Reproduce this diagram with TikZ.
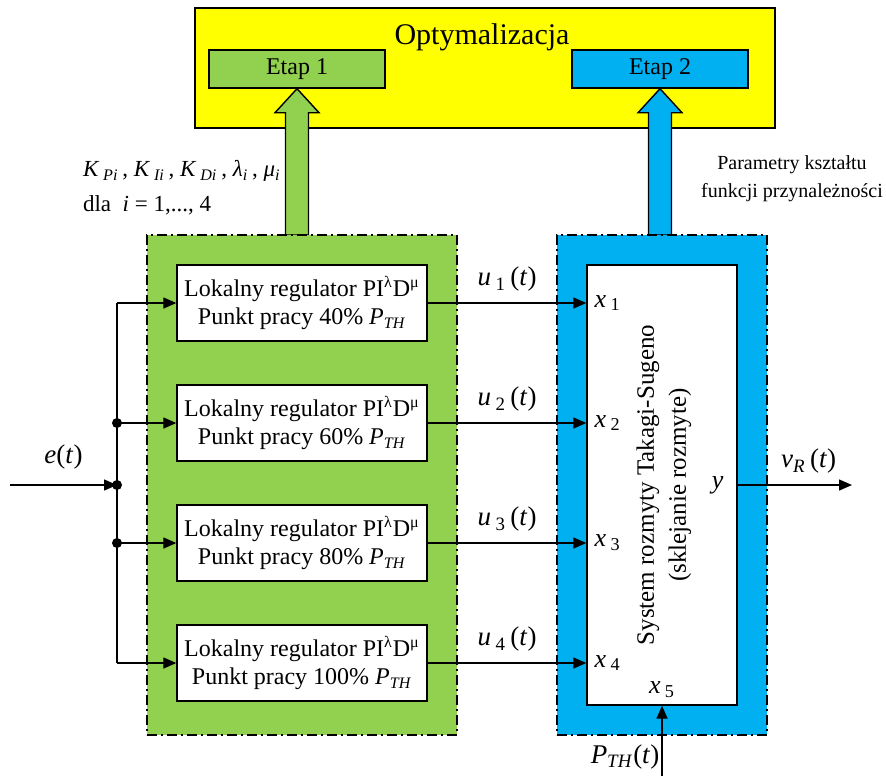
\documentclass[tikz,border=0pt]{standalone}
\usepackage{fontspec}
\setmainfont{Liberation Serif}
\usetikzlibrary{arrows.meta,positioning,calc}

\definecolor{optyellow}{HTML}{FFFF00}
\definecolor{etapgreen}{HTML}{92D050}
\definecolor{etapblue}{HTML}{00B0F0}
\newcommand{\lowix}[1]{\textsubscript{#1}}

\begin{document}
\begin{tikzpicture}[
  x=0.5pt, y=-0.5pt,
  optbox/.style={draw, fill=optyellow, line width=0.7pt, minimum width=290pt, minimum height=60pt},
  etap/.style={draw, line width=0.7pt, minimum width=88pt, minimum height=19pt, font=\fontsize{12}{14}\selectfont},
  group/.style={draw, line width=0.8pt, dash pattern=on 5pt off 2pt on 1pt off 2pt, minimum width=155pt, minimum height=250pt},
  regblock/.style={draw, fill=white, line width=0.7pt, minimum width=125pt, minimum height=38pt, align=center, font=\fontsize{12}{14}\selectfont},
  fuzzyblock/.style={draw, fill=white, line width=0.7pt, minimum width=75pt, minimum height=220pt},
  sig/.style={-{Triangle[length=6.5pt,width=5.5pt]}, line width=0.7pt},
  bigarrow/.style={draw, line width=0.7pt, line join=miter},
  lbl/.style={font=\fontsize{13.5}{16}\selectfont},
  port/.style={font=\fontsize{13}{16}\selectfont, inner sep=1pt},
  junction/.style={circle, fill, inner sep=0pt, minimum size=5pt}
]
\useasboundingbox (0,0) rectangle (886,776);

% optimisation stage
\node[optbox] (opt) at (485,68) {};
\node[font=\fontsize{15}{18}\selectfont] (optlbl) at (482,37) {Optymalizacja};
\node[etap, fill=etapgreen] (etap1) at (297,69) {Etap 1};
\node[etap, fill=etapblue] (etap2) at (660,69) {Etap 2};

% block arrows
\coordinate (a1) at (etap1.south |- 0,235);
\coordinate (a2) at (etap2.south |- 0,235);
\draw[bigarrow, fill=etapgreen] (etap1.south) -- ++(22,24) -- ++(-10.5,0) -- ($(a1)+(11.5,0)$)
  -- ($(a1)+(-11.5,0)$) -- ($(etap1.south)+(-11.5,24)$) -- ++(-10.5,0) -- cycle;
\draw[bigarrow, fill=etapblue] (etap2.south) -- ++(22,24) -- ++(-10.5,0) -- ($(a2)+(11.5,0)$)
  -- ($(a2)+(-11.5,0)$) -- ($(etap2.south)+(-11.5,24)$) -- ++(-10.5,0) -- cycle;

\node[align=left, anchor=west, font=\fontsize{11.5}{17.5}\selectfont] (gains) at (76,188)
  {\textit{K}\,\lowix{\textit{Pi}}\,, \textit{K}\,\lowix{\textit{Ii}}\,, \textit{K}\,\lowix{\textit{Di}}\,, \textit{λ}\lowix{\textit{i}}\,, \textit{μ}\lowix{\textit{i}}\\
   dla~ \textit{i} = 1,..., 4};
\node[align=center, font=\fontsize{10}{14}\selectfont] (shape) at (792,179) {Parametry kształtu\\funkcji przynależności};

% groups
\node[group, fill=etapgreen] (grp1) at (302,485) {};
\node[group, fill=etapblue, minimum width=105pt] (grp2) at (662,485) {};

% local controllers
\node[regblock] (reg1) at (302,303) {Lokalny regulator PI\textsuperscript{λ}D\textsuperscript{μ}\\Punkt pracy 40\% \textit{P}\lowix{\textit{TH}}};
\node[regblock] (reg2) at (302,423) {Lokalny regulator PI\textsuperscript{λ}D\textsuperscript{μ}\\Punkt pracy 60\% \textit{P}\lowix{\textit{TH}}};
\node[regblock] (reg3) at (302,543) {Lokalny regulator PI\textsuperscript{λ}D\textsuperscript{μ}\\Punkt pracy 80\% \textit{P}\lowix{\textit{TH}}};
\node[regblock] (reg4) at (302,663) {Lokalny regulator PI\textsuperscript{λ}D\textsuperscript{μ}\\Punkt pracy 100\% \textit{P}\lowix{\textit{TH}}};

% fuzzy system
\node[fuzzyblock] (ts) at (662,485) {};
\node[rotate=90, align=center, font=\fontsize{12.5}{16}\selectfont] (tslbl) at (664,485) {System rozmyty Takagi-Sugeno\\(sklejanie rozmyte)};

% input distribution
\coordinate (ein) at (10,485);
\coordinate (bus) at (117,485);
\draw[sig] (ein) -- (bus) node[midway, above=4pt, lbl] (elbl) {\textit{e}(\textit{t})};
\draw[line width=0.7pt] (bus |- reg1.west) -- (bus |- reg4.west);
\draw[sig] (bus |- reg1.west) -- (reg1.west);
\draw[sig] (bus |- reg2.west) -- (reg2.west);
\draw[sig] (bus |- reg3.west) -- (reg3.west);
\draw[sig] (bus |- reg4.west) -- (reg4.west);
\node[junction] (dot2) at (bus |- reg2.west) {};
\node[junction] (dot0) at (bus) {};
\node[junction] (dot3) at (bus |- reg3.west) {};

% controller outputs
\draw[sig] (reg1.east) -- (ts.west |- reg1.east) node[midway, above=2pt, lbl] (u1lbl) {\textit{u}\,\lowix{1}\,(\textit{t})};
\draw[sig] (reg2.east) -- (ts.west |- reg2.east) node[midway, above=2pt, lbl] (u2lbl) {\textit{u}\,\lowix{2}\,(\textit{t})};
\draw[sig] (reg3.east) -- (ts.west |- reg3.east) node[midway, above=2pt, lbl] (u3lbl) {\textit{u}\,\lowix{3}\,(\textit{t})};
\draw[sig] (reg4.east) -- (ts.west |- reg4.east) node[midway, above=2pt, lbl] (u4lbl) {\textit{u}\,\lowix{4}\,(\textit{t})};
\node[port, anchor=west] (x1) at ([xshift=3pt]ts.west |- reg1.east) {\textit{x}\,\lowix{1}};
\node[port, anchor=west] (x2) at ([xshift=3pt]ts.west |- reg2.east) {\textit{x}\,\lowix{2}};
\node[port, anchor=west] (x3) at ([xshift=3pt]ts.west |- reg3.east) {\textit{x}\,\lowix{3}};
\node[port, anchor=west] (x4) at ([xshift=3pt]ts.west |- reg4.east) {\textit{x}\,\lowix{4}};
\node[port, anchor=south] (x5) at ([yshift=3pt]ts.south) {\textit{x}\,\lowix{5}};

% load input and output
\coordinate (pin) at (ts.south |- 0,776);
\draw[sig] (pin) -- (ts.south);
\node[lbl] (ptlbl) at (625,757) {\textit{P}\lowix{\textit{TH}}(\textit{t})};
\node[port, anchor=east] (yport) at ([xshift=-6pt]ts.east) {\textit{y}};
\coordinate (vout) at (852,485);
\draw[sig] (ts.east) -- (vout) node[pos=0.62, above=2pt, lbl] (vlbl) {\textit{v}\lowix{\textit{R}}\,(\textit{t})};
\end{tikzpicture}
\end{document}
